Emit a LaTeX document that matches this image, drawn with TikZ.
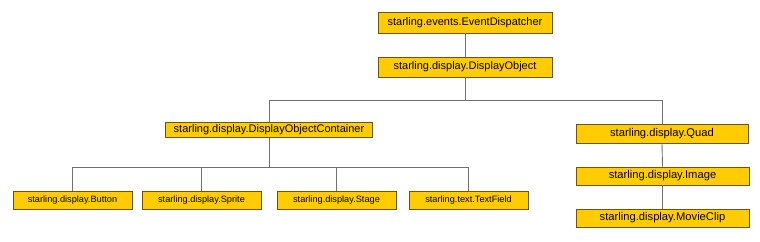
\documentclass[tikz,border=0pt]{standalone}
\usepackage{fontspec}
\setmainfont{Liberation Sans}
\definecolor{boxfill}{HTML}{FFCC00}
\definecolor{boxline}{HTML}{6E5210}
\definecolor{conn}{HTML}{707070}
\begin{document}
\begin{tikzpicture}[x=1pt,y=-1pt,
  cls/.style={draw=boxline,fill=boxfill,line width=0.9pt,inner sep=0pt,anchor=center},
  big/.style={cls,font=\fontsize{11}{13}\selectfont},
  small/.style={cls,font=\fontsize{9.2}{11}\selectfont},
  mid/.style={cls,font=\fontsize{11.2}{13}\selectfont},
  link/.style={draw=conn,line width=0.9pt}]
\useasboundingbox (0,0) rectangle (760,241);
\node[big,minimum width=174pt,minimum height=21pt] (ed) at (465,22.5) {starling.events.EventDispatcher};
\node[big,minimum width=174pt,minimum height=20pt] (do) at (465,67) {starling.display.DisplayObject};
\node[big,minimum width=207pt,minimum height=15pt] (doc) at (269,130) {starling.display.DisplayObjectContainer};
\node[mid,minimum width=172pt,minimum height=19pt] (quad) at (662,133.5) {starling.display.Quad};
\node[mid,minimum width=173pt,minimum height=18pt] (img) at (662.5,176) {starling.display.Image};
\node[mid,minimum width=173pt,minimum height=18pt] (mc) at (662.5,218) {starling.display.MovieClip};
\node[small,minimum width=119pt,minimum height=18pt] (btn) at (72.5,200) {starling.display.Button};
\node[small,minimum width=119pt,minimum height=18pt] (spr) at (201.5,200) {starling.display.Sprite};
\node[small,minimum width=119pt,minimum height=18pt] (stg) at (336.5,200) {starling.display.Stage};
\node[small,minimum width=119pt,minimum height=18pt] (tf) at (468.5,200) {starling.text.TextField};
\coordinate (j1) at (465,100);
\coordinate (j2) at (269,167);
\draw[link] (ed.south) -- (do.north);
\draw[link] (do.south) -- (j1);
\draw[link] (doc.north) -- (doc.north |- j1) -- (quad.north |- j1) -- (quad.north);
\draw[link] (doc.south) -- (j2);
\draw[link] (btn.north) -- (btn.north |- j2) -- (tf.north |- j2) -- (tf.north);
\draw[link] (spr.north) -- (spr.north |- j2);
\draw[link] (stg.north) -- (stg.north |- j2);
\draw[link] (quad.south) -- (img.north);
\draw[link] (img.south) -- (mc.north);
\end{tikzpicture}
\end{document}
